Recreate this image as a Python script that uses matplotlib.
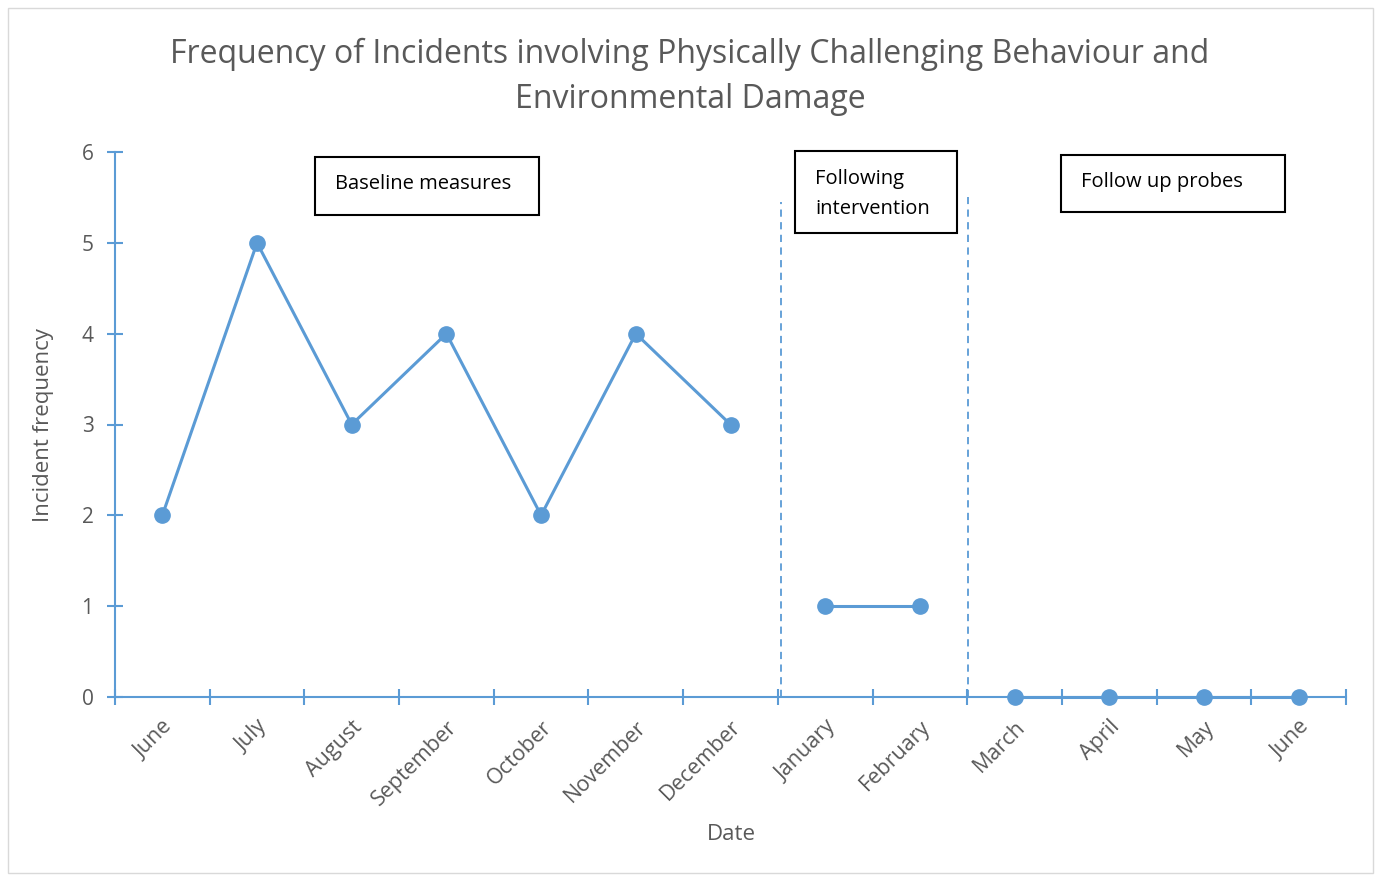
import matplotlib.pyplot as plt
from matplotlib.patches import Rectangle

months = ['June', 'July', 'August', 'September', 'October', 'November', 'December',
          'January', 'February', 'March', 'April', 'May', 'June']
baseline = [2, 5, 3, 4, 2, 4, 3]
intervention = [1, 1]
follow_up = [0, 0, 0, 0]

phase_labels = ['Baseline measures', 'Following\nintervention', 'Follow up probes']

blue = '#5B9BD5'
grey = '#595959'
W, H = 1380, 875

plt.rcParams['font.family'] = ['Open Sans', 'DejaVu Sans']

fig = plt.figure(figsize=(W / 100, H / 100), dpi=100)

def fx(x):
    return x / W

def fy(y):
    return 1 - y / H

# chart frame
fig.patches.append(Rectangle((fx(8), fy(873)), fx(1365), 865 / H, transform=fig.transFigure,
                             fill=False, edgecolor='#D9D9D9', lw=1))

ax = fig.add_axes([fx(115), fy(697), fx(1231), (697 - 152) / H])

x_base = list(range(len(baseline)))
x_int = [len(baseline) + i for i in range(len(intervention))]
x_fu = [len(baseline) + len(intervention) + i for i in range(len(follow_up))]

for xs, ys in [(x_base, baseline), (x_int, intervention), (x_fu, follow_up)]:
    ax.plot(xs, ys, color=blue, lw=2.2, marker='o', ms=11, clip_on=False, zorder=3)

# phase change lines
ax.vlines(len(baseline) - 0.47, 0, 5.45, colors=blue, linestyles=(0, (4, 3)), lw=1.3)
ax.vlines(len(baseline) + len(intervention) - 0.49, 0, 5.5, colors=blue, linestyles=(0, (4, 3)), lw=1.3)

ax.set_xlim(-0.5, len(months) - 0.5)
ax.set_ylim(0, 6)

for s in ['top', 'right']:
    ax.spines[s].set_visible(False)
for s in ['left', 'bottom']:
    ax.spines[s].set_color(blue)
    ax.spines[s].set_linewidth(1.5)

ax.set_xticks([i - 0.5 for i in range(len(months) + 1)])
ax.set_xticklabels([])
ax.set_xticks(range(len(months)), minor=True)
ax.set_xticklabels(months, minor=True, rotation=45, ha='right', va='top',
                   rotation_mode='anchor', fontsize=15.5, color=grey)
ax.tick_params(axis='x', which='minor', length=0, pad=14)
ax.tick_params(axis='x', which='major', direction='inout', length=11, width=1.5, color=blue)
ax.set_yticks(range(7))
ax.tick_params(axis='y', direction='inout', length=11, width=1.5, color=blue,
               labelsize=15, labelcolor=grey, pad=10)

fig.text(fx(690), fy(77), 'Frequency of Incidents involving Physically Challenging Behaviour and\nEnvironmental Damage',
         ha='center', va='center', fontsize=23, color=grey, linespacing=1.45)
fig.text(fx(44), fy(425), 'Incident frequency', rotation=90, ha='center', va='center',
         fontsize=16, color=grey)
fig.text(fx(731), fy(835), 'Date', ha='center', va='center', fontsize=16, color=grey)

# phase text boxes
boxes = [(315, 157, 539, 215), (795, 151, 957, 233), (1061, 155, 1285, 212)]
for (x0, y0, x1, y1), lab in zip(boxes, phase_labels):
    fig.patches.append(Rectangle((fx(x0), fy(y1)), fx(x1 - x0), (y1 - y0) / H,
                                 transform=fig.transFigure, fill=False, edgecolor='black', lw=1.5))
    fig.text(fx(x0 + 20), fy(y0 + 27 if '\n' not in lab else y0 + 43), lab, ha='left', va='center',
             fontsize=14.5, color='black', linespacing=1.65)

fig.savefig('out.png', dpi=100)
